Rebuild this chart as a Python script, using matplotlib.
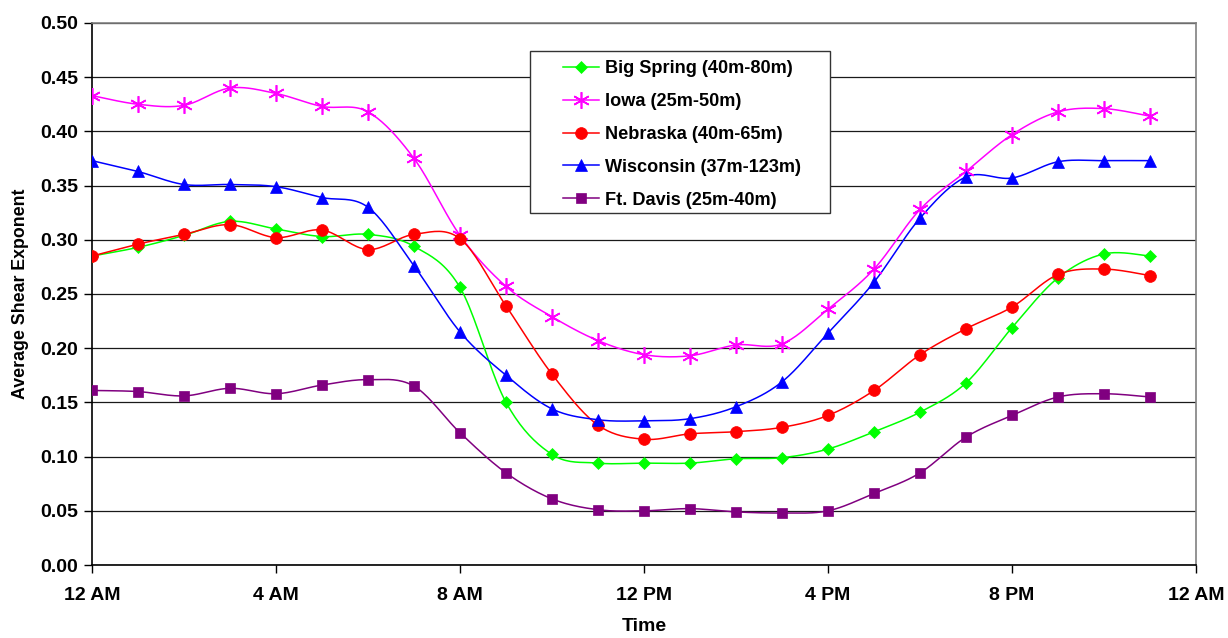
import numpy as np
import matplotlib
matplotlib.use("Agg")
import matplotlib.pyplot as plt
from matplotlib.patches import Rectangle

hours = list(range(24))
tick_hours = [0, 4, 8, 12, 16, 20, 24]
tick_labels = ["12 AM", "4 AM", "8 AM", "12 PM", "4 PM", "8 PM", "12 AM"]

big_spring = [0.285, 0.293, 0.304, 0.317, 0.310, 0.303, 0.305, 0.294, 0.256, 0.150,
              0.102, 0.094, 0.094, 0.094, 0.098, 0.099, 0.107, 0.123, 0.141, 0.168,
              0.219, 0.265, 0.287, 0.285]
iowa = [0.433, 0.425, 0.424, 0.440, 0.435, 0.423, 0.418, 0.375, 0.304, 0.257,
        0.229, 0.207, 0.194, 0.193, 0.203, 0.204, 0.236, 0.273, 0.328, 0.363,
        0.397, 0.418, 0.421, 0.414]
nebraska = [0.285, 0.296, 0.305, 0.314, 0.302, 0.309, 0.291, 0.305, 0.301, 0.239,
            0.176, 0.129, 0.116, 0.121, 0.123, 0.127, 0.138, 0.161, 0.194, 0.218,
            0.238, 0.268, 0.273, 0.267]
wisconsin = [0.373, 0.363, 0.351, 0.351, 0.349, 0.339, 0.330, 0.276, 0.215, 0.175,
             0.144, 0.134, 0.133, 0.135, 0.146, 0.169, 0.214, 0.261, 0.320, 0.358,
             0.357, 0.372, 0.373, 0.373]
ft_davis = [0.161, 0.160, 0.156, 0.163, 0.158, 0.166, 0.171, 0.165, 0.122, 0.085,
            0.061, 0.051, 0.050, 0.052, 0.049, 0.048, 0.050, 0.066, 0.085, 0.118,
            0.138, 0.155, 0.158, 0.155]

series = [
    ("Big Spring (40m-80m)", big_spring, "#00FF00", "D", 6),
    ("Iowa (25m-50m)", iowa, "#FF00FF", (6, 2, 0), 12),
    ("Nebraska (40m-65m)", nebraska, "#FF0000", "o", 8.5),
    ("Wisconsin (37m-123m)", wisconsin, "#0000FF", "^", 8.5),
    ("Ft. Davis (25m-40m)", ft_davis, "#800080", "s", 6.5),
]


def smooth(x, y, n=20):
    # catmull-rom style smoothing like Excel's smoothed line
    x = np.asarray(x, float)
    y = np.asarray(y, float)
    px = np.concatenate([[x[0]], x, [x[-1]]])
    py = np.concatenate([[y[0]], y, [y[-1]]])
    xs, ys = [], []
    t = np.linspace(0, 1, n, endpoint=False)
    for i in range(1, len(px) - 2):
        for p, out in ((px, xs), (py, ys)):
            p0, p1, p2, p3 = p[i - 1], p[i], p[i + 1], p[i + 2]
            c1 = p1 + (p2 - p0) / 6
            c2 = p2 - (p3 - p1) / 6
            b = ((1 - t) ** 3 * p1 + 3 * (1 - t) ** 2 * t * c1
                 + 3 * (1 - t) * t ** 2 * c2 + t ** 3 * p2)
            out.extend(b)
    xs.append(x[-1])
    ys.append(y[-1])
    return np.array(xs), np.array(ys)


plt.rcParams["font.family"] = ["Liberation Sans", "DejaVu Sans"]
plt.rcParams["font.weight"] = "bold"

fig = plt.figure(figsize=(12.28, 6.38), dpi=100)
ax = fig.add_axes([0.0749, 0.1144, 0.8991, 0.8496])

for name, vals, color, marker, ms in series:
    mew = 1.2 if marker == (6, 2, 0) else 0.5
    sx, sy = smooth(hours, vals)
    ax.plot(sx, sy, color=color, lw=1.1, zorder=3)
    ax.plot(hours, vals, linestyle="none", marker=marker, color=color,
            markersize=ms, markeredgewidth=mew, zorder=4)
    ax.plot([], [], color=color, lw=1.1, marker=marker, markersize=ms,
            markeredgewidth=mew, label=name)

ax.set_xlim(0, 24)
ax.set_ylim(0, 0.5)
ax.set_xticks(tick_hours)
ax.set_xticklabels(tick_labels)
ax.set_yticks(np.arange(0, 0.501, 0.05))
ax.yaxis.set_major_formatter(matplotlib.ticker.FormatStrFormatter("%.2f"))
ax.tick_params(axis="both", direction="out", length=6, width=1, labelsize=14,
               color="black")
ax.tick_params(axis="x", pad=10)
ax.tick_params(axis="y", pad=4)

ax.grid(axis="y", color="#1a1a1a", lw=0.9, zorder=1)
ax.spines["left"].set_color("black")
ax.spines["bottom"].set_color("black")
ax.spines["top"].set_color("#808080")
ax.spines["right"].set_color("#808080")
for s in ax.spines.values():
    s.set_linewidth(1.2)

ax.set_xlabel("Time", fontsize=14, fontweight="bold", labelpad=10)
ax.set_ylabel("Average Shear Exponent", fontsize=12.8, fontweight="bold",
              labelpad=8)

# legend box drawn separately so the padding can match the original
ax.add_patch(Rectangle((0.397, 0.649), 0.271, 0.300, transform=ax.transAxes,
                       facecolor="white", edgecolor="#333333", lw=1.0,
                       zorder=5))
leg = ax.legend(loc="upper left", bbox_to_anchor=(0.4266, 0.931),
                frameon=False, fontsize=13.1, handlelength=2.0,
                labelspacing=0.87, borderpad=0, handletextpad=0.3,
                borderaxespad=0)
leg.set_zorder(6)

fig.savefig("out.png", dpi=100)
